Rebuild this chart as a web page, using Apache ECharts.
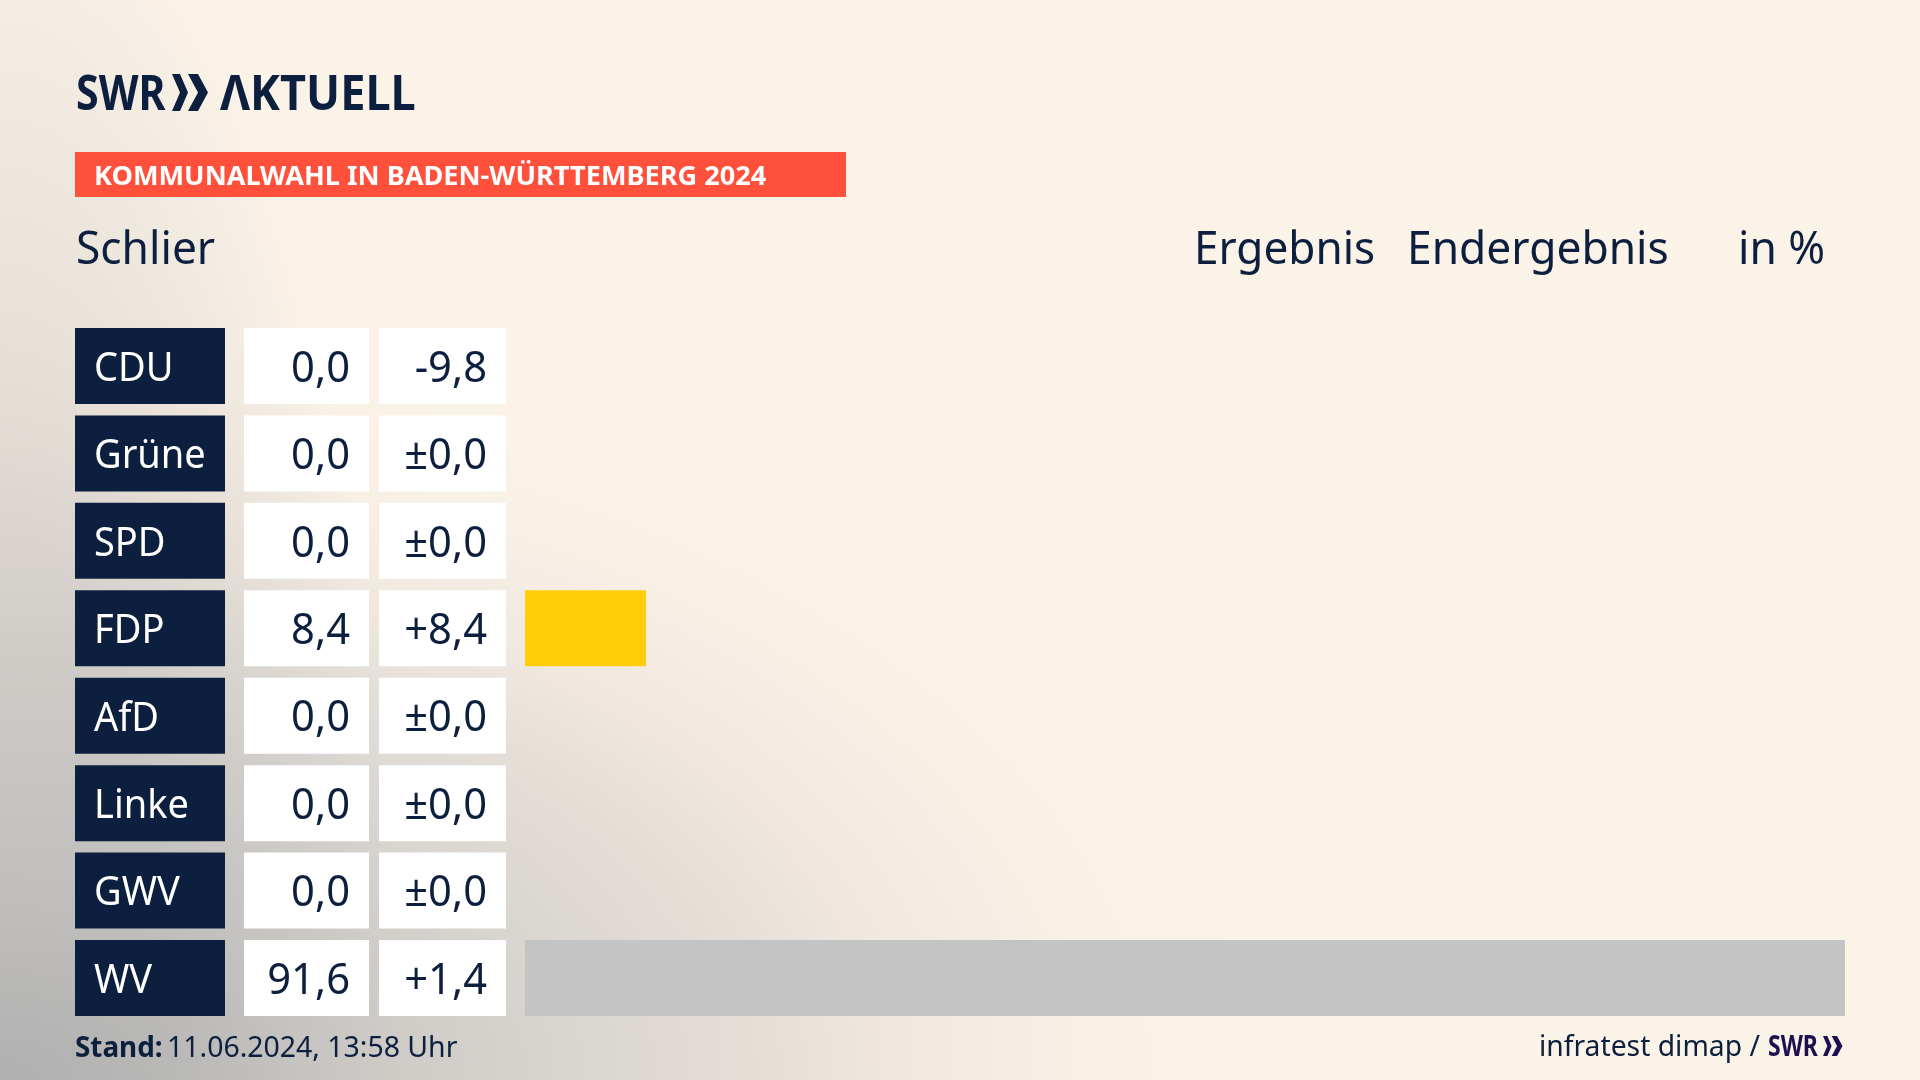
<!DOCTYPE html>
<html>
<head>
<meta charset="utf-8">
<title>Kommunalwahl Schlier</title>
<script src="https://cdn.jsdelivr.net/npm/echarts@6/dist/echarts.min.js"></script>
<style>
html,body{margin:0;width:1920px;height:1080px;overflow:hidden}
body{
  background-color:#fbf3e8;
  background-image:
    radial-gradient(ellipse 400px 1240px at 0 1080px,rgba(176,176,176,.4) 0,rgba(176,176,176,.39) 23%,rgba(176,176,176,.39) 43%,rgba(176,176,176,.25) 63%,rgba(176,176,176,.09) 87%,rgba(176,176,176,0) 100%),
    radial-gradient(ellipse 1300px 750px at 0 1080px,#b0b0b0 0,#cac7c3 23%,#d4d1cc 38%,#e4ded7 58%,#f0e8df 69%,#f9f0e6 85%,#fbf3e8 100%);
}
#chart{width:1920px;height:1080px}
</style>
</head>
<body>
<div id="chart"></div>
<script>
const parties=['CDU','Grüne','SPD','FDP','AfD','Linke','GWV','WV']
const shares=[0,0,0,8.4,0,0,0,91.6]
const shareLabels=['0,0','0,0','0,0','8,4','0,0','0,0','0,0','91,6']
const diffLabels=['-9,8','±0,0','±0,0','+8,4','±0,0','±0,0','±0,0','+1,4']
const barColors=['#000000','#46962b','#e3000f','#ffcd0a','#009ee0','#be3075','#c4c4c4','#c4c4c4']

const navy='#0c1f3e'
const font='"Noto Sans"'
const rowH=76

// one column of the table, the rows come from the category axis
function cell(left,width,bg,color,labels,textX,align,size,sx){
  return {
    type:'custom',
    coordinateSystem:'cartesian2d',
    data:parties.map((p,i)=>[0,i]),
    encode:{x:0,y:1},
    silent:true,
    renderItem(params,api){
      const y=api.coord([0,api.value(1)])[1]
      return {
        type:'group',
        children:[
          {type:'rect',shape:{x:left,y:y-rowH/2,width:width,height:rowH},style:{fill:bg}},
          {type:'text',x:textX,y:y+3.5,scaleX:sx,
            style:{text:labels[params.dataIndex],fill:color,fontFamily:font,fontSize:size,align:align,verticalAlign:'middle'}}
        ]
      }
    }
  }
}

function headText(text,x,y,size,sx,weight,color){
  return {type:'text',x:x,y:y,scaleX:sx,silent:true,
    style:{text:text,fill:color||navy,fontFamily:font,fontSize:size,fontWeight:weight||400,align:'left',verticalAlign:'middle'}}
}

// the two arrows of the logo, the second one is a bit bigger
function chevrons(x,y,h,color){
  const k=h/37
  const one=(x0,top,tip,notch)=>({type:'polygon',silent:true,
    shape:{points:[[x0,y],[x0+top*k,y],[x0+tip*k,y+h/2],[x0+top*k,y+h],[x0,y+h],[x0+notch*k,y+h/2]]},
    style:{fill:color}})
  return [one(x,8,16,8),one(x+16*k,10,20,10)]
}

const myChart=echarts.init(document.querySelector('#chart'))
const option={
  animation:false,
  grid:{left:525,width:1320,top:322.3,height:699.4},
  xAxis:{type:'value',min:0,max:Math.max(...shares),show:false},
  yAxis:{type:'category',data:parties,inverse:true,show:false},
  series:[
    {
      type:'bar',
      barWidth:rowH,
      silent:true,
      data:shares.map((v,i)=>({value:v,itemStyle:{color:barColors[i]}}))
    },
    cell(75,150,navy,'#ffffff',parties,94,'left',40,0.95),
    cell(244,125,'#ffffff',navy,shareLabels,350,'right',43,0.97),
    cell(379,127,'#ffffff',navy,diffLabels,487,'right',43,0.97)
  ],
  graphic:[
    headText('SWR',76,96,49,0.84,700),
    ...chevrons(172,74,37,navy),
    headText('ΛKTUELL',220,96,49,0.92,700),
    {type:'rect',silent:true,shape:{x:75,y:152,width:771,height:45},style:{fill:'#ff503c'}},
    headText('KOMMUNALWAHL IN BADEN-WÜRTTEMBERG 2024',94,177.5,27,1.005,700,'#ffffff'),
    headText('Schlier',76,251.5,45,0.985),
    headText('Ergebnis',1194,251.5,45,0.98),
    headText('Endergebnis',1407,251.5,45,0.985),
    headText('in %',1738,251.5,45,0.985),
    headText('Stand:',75,1049,29,0.96,700),
    headText('11.06.2024, 13:58 Uhr',167,1049,29,0.98),
    headText('infratest dimap /',1539,1048,29,0.975),
    headText('SWR',1768,1048,28,0.82,700,'#1f0f4f'),
    ...chevrons(1823,1036,20,'#1f0f4f')
  ]
}
myChart.setOption(option)
</script>
</body>
</html>
